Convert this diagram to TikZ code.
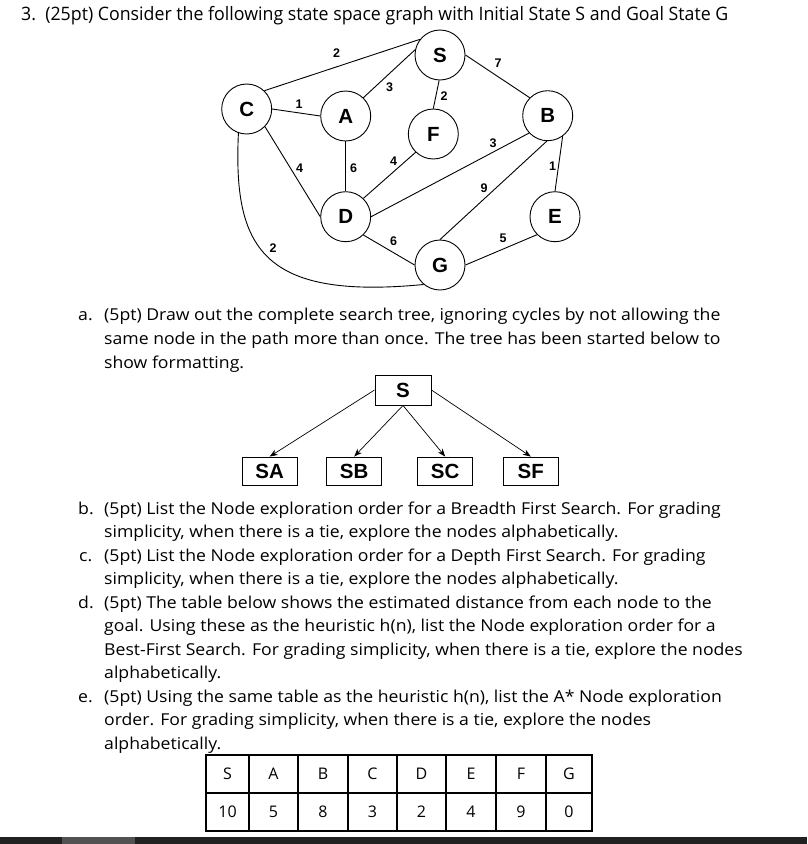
\documentclass[tikz,border=0pt]{standalone}
\usepackage{fontspec}
\setmainfont[FakeStretch=1.075]{Open Sans}
\newfontfamily\titlefont[FakeStretch=0.96]{Open Sans}
\newfontfamily\tablefont{Open Sans}
\newfontfamily\graphfont{Liberation Sans}
\usetikzlibrary{arrows.meta}
\begin{document}
\begin{tikzpicture}[x=1pt,y=-1pt,
  gnode/.style={circle,draw,line width=0.9pt,minimum size=50pt,inner sep=0pt,font=\graphfont\fontsize{20.5}{20.5}\bfseries\selectfont},
  glabel/.style={font=\graphfont\fontsize{12.5}{13}\bfseries\selectfont,inner sep=0pt},
  gedge/.style={line width=0.9pt},
  tbox/.style={draw,line width=0.9pt,minimum width=55pt,minimum height=28pt,inner sep=0pt,font=\graphfont\fontsize{20.5}{20.5}\bfseries\selectfont},
  tarrow/.style={line width=0.7pt,-{Stealth[length=8pt,width=6pt]}},
  body/.style={anchor=base west,inner sep=0pt,font=\fontsize{16.4}{20}\selectfont},
  tcell/.style={anchor=center,inner sep=0pt,font=\tablefont\fontsize{16}{16}\selectfont}
]
\useasboundingbox (0,0) rectangle (807,844);
\fill[white] (0,0) rectangle (807,844);
% title
\node[anchor=base west,inner sep=0pt,font=\titlefont\fontsize{18.5}{20}\selectfont] (title) at (21,20) {3.\ \ (25pt) Consider the following state space graph with Initial State S and Goal State G};
% graph nodes
\node[gnode] (S) at (440,55) {S};
\node[gnode] (C) at (246.7,109) {C};
\node[gnode] (A) at (345.7,116) {A};
\node[gnode] (B) at (547.7,115.7) {B};
\node[gnode] (F) at (433.3,134) {F};
\node[gnode] (D) at (345.7,216.7) {D};
\node[gnode] (E) at (555,216.7) {E};
\node[gnode] (G) at (440,265) {G};
% edges
\draw[gedge] (C.46) -- (S.142);
\draw[gedge] (C.east) -- (A.west);
\draw[gedge] (A.46) -- (S.168);
\draw[gedge] (S.268) -- (F.north);
\draw[gedge] (S.east) -- (B.135);
\draw[gedge] (F.226) -- (D.46);
\draw[gedge] (A.south) -- (D.north);
\draw[gedge] (C.-44) -- (D.west);
\draw[gedge] (D.east) -- (B.223);
\draw[gedge] (B.268) -- (G.north);
\draw[gedge] (B.-54) -- (E.north);
\draw[gedge] (E.225) -- (G.east);
\draw[gedge] (D.-46) -- (G.west);
\draw[gedge] (C.251) .. controls (233,248) and (262,300) .. (G.230);
% edge labels
\node[glabel] (lCS) at (336.5,53) {2};
\node[glabel] (lCA) at (299,104) {1};
\node[glabel] (lAS) at (389.5,87) {3};
\node[glabel] (lSF) at (444,96) {2};
\node[glabel] (lSB) at (498,63) {7};
\node[glabel] (lFD) at (393.5,161) {4};
\node[glabel] (lAD) at (353.5,168) {6};
\node[glabel] (lCD) at (299.5,168) {4};
\node[glabel] (lBD) at (493,143) {3};
\node[glabel] (lBG) at (484,188) {9};
\node[glabel] (lBE) at (552.5,166) {1};
\node[glabel] (lEG) at (503,238) {5};
\node[glabel] (lDG) at (393.5,241) {6};
\node[glabel] (lCG) at (273,248) {2};
% part a
\node[body] (la) at (78,320) {a.};
\node[body] (a1) at (104,320) {(5pt) Draw out the complete search tree, ignoring cycles by not allowing the};
\node[body] (a2) at (104,344) {same node in the path more than once. The tree has been started below to};
\node[body] (a3) at (104,368) {show formatting.};
% tree
\node[tbox,minimum width=56pt,minimum height=30pt] (tS) at (403,390) {S};
\node[tbox] (tSA) at (269.7,471) {SA};
\node[tbox] (tSB) at (354.2,471) {SB};
\node[tbox] (tSC) at (445.2,471) {SC};
\node[tbox] (tSF) at (530.8,471) {SF};
\draw[tarrow] (tS.west) -- (tSA.north);
\draw[tarrow] (tS.south) -- (tSB.north);
\draw[tarrow] (tS.south) -- (tSC.north);
\draw[tarrow] (tS.east) -- (tSF.north);
% parts b-e
\node[body] (lb) at (78,514) {b.};
\node[body] (b1) at (104,514) {(5pt) List the Node exploration order for a Breadth First Search. For grading};
\node[body] (b2) at (104,537.5) {simplicity, when there is a tie, explore the nodes alphabetically.};
\node[body] (lc) at (79,561) {c.};
\node[body] (c1) at (104,561) {(5pt) List the Node exploration order for a Depth First Search. For grading};
\node[body] (c2) at (104,584.5) {simplicity, when there is a tie, explore the nodes alphabetically.};
\node[body] (ld) at (78,608) {d.};
\node[body] (d1) at (104,608) {(5pt) The table below shows the estimated distance from each node to the};
\node[body] (d2) at (104,631.5) {goal. Using these as the heuristic h(n), list the Node exploration order for a};
\node[body] (d3) at (104,655) {Best-First Search. For grading simplicity, when there is a tie, explore the nodes};
\node[body] (d4) at (104,678.5) {alphabetically.};
\node[body] (le) at (78,702) {e.};
\node[body] (e1) at (104,702) {(5pt) Using the same table as the heuristic h(n), list the A* Node exploration};
\node[body] (e2) at (104,725.5) {order. For grading simplicity, when there is a tie, explore the nodes};
\node[body] (e3) at (104,749) {alphabetically.};
% table
\draw[line width=1.3pt] (206,755) rectangle (592,831);
\draw[line width=1.3pt] (206,793) -- (592,793);
\foreach \xx in {249,298,348,397,446,496,546}{\draw[line width=1.3pt] (\xx,755) -- (\xx,831);}
\foreach \l/\v/\cx in {S/10/227.5,A/5/273.5,B/8/323,C/3/372.5,D/2/421.5,E/4/471,F/9/521,G/0/569}{
  \node[tcell] at (\cx,774) {\l};
  \node[tcell] at (\cx,812) {\v};
}
% bottom bar
\fill[black!87] (0,837) rectangle (807,844);
\fill[black!68] (62,837) rectangle (135,844);
\end{tikzpicture}
\end{document}
